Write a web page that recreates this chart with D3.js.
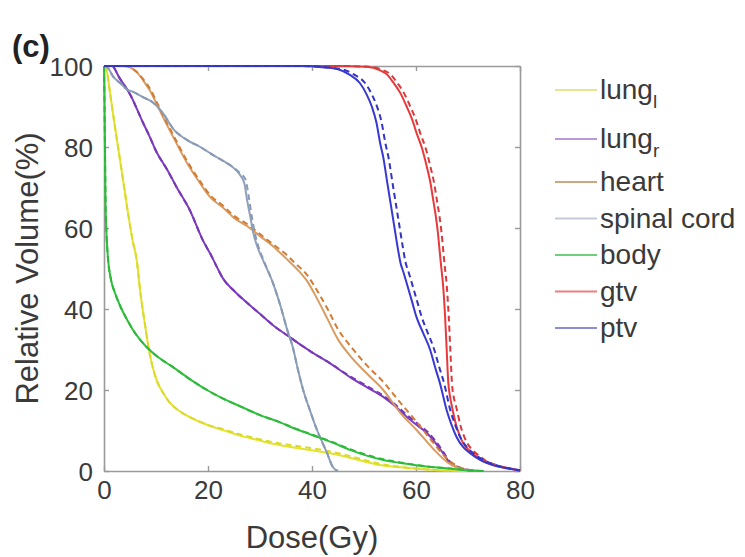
<!DOCTYPE html>
<html>
<head>
<meta charset="utf-8">
<script src="https://cdn.jsdelivr.net/npm/d3@7"></script>
<style>
  html, body { margin: 0; padding: 0; background: #ffffff; }
  svg { display: block; }
  text { font-family: "Liberation Sans", Arial, Helvetica, sans-serif; }
</style>
</head>
<body>
<svg id="chart" width="745" height="557"></svg>
<script>
// ---------------- data ----------------
const seriesNames = ["lung_l", "lung_r", "heart", "spinal cord", "body", "gtv", "ptv"];
const xTicks = [0, 20, 40, 60, 80];
const yTicks = [0, 20, 40, 60, 80, 100];
const xLabel = "Dose(Gy)";
const yLabel = "Relative Volume(%)";
const panelLabel = "(c)";

// [dose (Gy), relative volume (%)] — plan 1 (solid) and plan 2 (dashed)
const lungL1 = [[0,100],[0.5,99],[1.2,93],[2.1,85],[3,77.5],[4,69],[4.7,63],[5.5,57],[6.3,52],[7,44],[7.9,36],[8.5,31],[9.3,26],[10.1,22.5],[11.5,19],[12.7,16.8],[14.5,14.8],[16.5,13.3],[20,11.3],[22.9,10.1],[26,8.8],[29.4,7.7],[33,6.6],[35.8,5.9],[39.6,5.2],[43.5,4.4],[46,3.7],[49,2.7],[53,1.5],[57,0.9],[61,0.5],[66,0.1],[70,0]];
const lungL2 = [[0,100],[0.5,99],[1.2,93],[2.1,85],[3,77.5],[4,69],[4.7,63],[5.5,57],[6.3,52],[7,44],[7.9,36],[8.5,31],[9.3,26],[10.1,22.5],[11.5,19],[12.7,16.8],[14.5,14.8],[16.5,13.3],[20,11.4],[22.9,10.3],[26,9.1],[29.4,8.0],[33,7.0],[35.8,6.4],[39.6,5.7],[43.5,4.8],[46,4.1],[49,3.1],[53,1.8],[57,1.0],[61,0.5],[66,0.1],[70,0]];
const lungR1 = [[0,100],[1.5,100],[3,97],[5,93],[7.5,86],[8.8,82.5],[10,79],[12.1,74.5],[14,70],[16.5,64.4],[19,57],[20.5,53.5],[21.7,50.4],[22.9,47.5],[25,44.5],[28,41],[30,38.8],[33,35.5],[35.8,33],[38,31],[40,29.3],[43,27],[47.3,23.2],[50.5,20.7],[53.7,18.3],[56,16],[58.3,13.3],[60.2,11.3],[62.1,9.4],[63.7,7],[65.2,4.4],[66.5,2],[68,0.8],[70,0.2],[72,0]];
const lungR2 = [[0,100],[1.5,100],[3,97],[5,93],[7.5,86],[8.8,82.5],[10,79],[12.1,74.5],[14,70],[16.5,64.4],[19,57],[20.5,53.5],[21.7,50.4],[22.9,47.5],[25,44.5],[28,41],[30,38.8],[33,35.5],[35.8,33],[38,31],[40,29.3],[43,27],[47.3,23.4],[50.5,21],[53.7,18.6],[56,16.4],[58.3,13.8],[60.2,11.8],[62.1,9.8],[63.7,7.5],[65.2,4.8],[66.5,2.3],[68,1],[70,0.3],[72,0]];
const heart1 = [[0,100],[4,100],[5,99.7],[6.3,98.5],[7.5,96.5],[8.8,94],[10,91],[11.3,87.5],[13.3,82.5],[16,76],[18.5,71],[20.5,67.5],[22.9,65],[25,62.5],[27.5,60.5],[30,58],[32.5,55.5],[35,52.5],[37,50],[39,47],[41,42.5],[43,37.5],[45,32.5],[47.3,28.5],[50.6,24],[53.7,20],[56.9,14.5],[60.2,10],[63.3,5.5],[66,2.2],[68,0.8],[70,0.2],[72,0]];
const heart2 = [[0,100],[4,100],[5,99.7],[6.3,98.5],[7.5,96.8],[8.8,94.5],[10,91.5],[11.3,88],[13.3,83],[16,76.5],[18.5,71.5],[20.5,68],[22.9,65.5],[25,63],[27.5,61],[30,58.5],[32.5,56],[35,53.5],[37,51],[39,48.5],[41,44.5],[43,40],[45,35],[47.3,31],[50.6,26],[53.7,22],[56.9,17],[60.2,12],[63.3,7],[66,3],[68,1.2],[70,0.3],[72,0]];
const spinal1 = [[0,100],[0.8,99.5],[1.7,97.5],[3.1,95.8],[4.4,94.2],[5.6,93.6],[7.5,92.3],[9.4,91],[11.3,88.4],[13.3,84.5],[16,81.7],[18.5,80],[21,78],[23,76.5],[24.5,75.3],[26.2,73],[27,71],[27.5,67],[28.1,63],[28.7,58.8],[29.6,55],[30.6,52],[32.5,46.4],[34,40.5],[35.2,35],[36.3,30.6],[37.3,25],[38.3,20],[39.6,15],[41,10],[42,7],[42.9,4.4],[44,1],[45,0]];
const spinal2 = [[0,100],[0.8,99.5],[1.7,97.5],[3.1,95.8],[4.4,94.2],[5.6,93.6],[7.5,92.3],[9.4,91],[11.3,88.4],[13.3,84.5],[16,81.7],[18.5,80],[21,78],[23,76.5],[24.5,75.3],[26.2,73.5],[27.2,72],[27.8,68],[28.4,63],[29,58.8],[29.8,55],[30.7,52],[32.5,46.4],[34,40.5],[35.2,35],[36.3,30.6],[37.3,25],[38.3,20],[39.6,15],[41,10],[42,7],[42.9,4.4],[44,1],[45,0]];
const body1 = [[0,100],[0.1,90],[0.2,78],[0.3,66],[0.5,58],[0.8,52],[1.3,47.5],[2.1,44],[3.2,40.5],[4.6,37],[6,34],[7.9,31],[10,28.5],[13.2,25.7],[16.5,22.7],[19.8,20],[23,17.8],[26.3,15.9],[30,13.8],[33.5,12.2],[37,10.3],[40,8.9],[44,7],[47.3,5.2],[50.5,3.8],[53.7,2.7],[57,2],[60,1.4],[63,1],[66.5,0.6],[70,0.2],[73,0]];
const body2 = [[0,100],[0.1,90],[0.2,78],[0.3,66],[0.5,58],[0.8,52],[1.3,47.5],[2.1,44],[3.2,40.5],[4.6,37],[6,34],[7.9,31],[10,28.5],[13.2,25.7],[16.5,22.7],[19.8,20],[23,17.8],[26.3,15.9],[30,13.8],[33.5,12.2],[37,10.4],[40,9.0],[44,7.1],[47.3,5.4],[50.5,4.0],[53.7,2.9],[57,2.1],[60,1.5],[63,1],[66.5,0.6],[70,0.2],[73,0]];
const gtv1 = [[0,100],[45,100],[50.5,99.8],[53,99],[54.5,97.8],[55.6,96],[57,93.3],[58.2,90],[59.2,87],[60.1,83.5],[61.2,79.5],[62.1,75],[62.8,71],[63.3,67],[63.8,63],[64.2,59],[64.5,55],[64.8,51],[65.2,46],[65.6,38],[65.9,30],[66.2,22],[66.6,18],[66.9,16],[67.8,11],[69,7],[70.3,5],[71.7,3.5],[73,2.3],[74.8,1.5],[77,0.8],[78.7,0.4],[80,0]];
const gtv2 = [[0,100],[45,100],[51,99.8],[53.6,99],[55.2,97.8],[56.3,96],[57.7,93.3],[58.9,90],[59.9,87],[60.8,83.5],[61.9,79.5],[62.8,75],[63.5,71],[64,67],[64.5,63],[64.9,59],[65.2,55],[65.5,51],[65.9,46],[66.3,38],[66.6,30],[66.9,22],[67.3,18],[67.7,16],[68.6,11],[69.8,7],[71,5],[72.4,3.5],[73.7,2.3],[75.4,1.5],[77.5,0.8],[79,0.4],[80,0]];
const ptv1 = [[0,100],[38,100],[42,99.7],[45,99.2],[47.3,97.8],[49.2,95.8],[50.5,93],[51.5,90],[52.4,86],[53.1,81],[53.7,77.5],[54.5,71],[55,67],[56,59],[56.5,55],[57,51.5],[57.6,49],[58.2,46.4],[59.2,42],[60.1,38],[61.4,34],[62.7,30],[63.7,25.5],[64.6,21.7],[65.9,15],[66.8,11.5],[67.8,8.4],[69,6],[70.4,4.4],[72,3],[73.6,2],[75.5,1.2],[77.4,0.7],[80,0.2]];
const ptv2 = [[0,100],[38,100],[42.6,99.7],[45.8,99.2],[48.2,97.8],[50.2,95.8],[51.5,93],[52.5,90],[53.4,86],[54.1,81],[54.7,77.5],[55.5,71],[56,67],[57,59],[57.5,55],[58,51.5],[58.6,49],[59.2,46.4],[60.2,42],[61.1,38],[62.3,34],[63.5,30],[64.5,25.5],[65.4,21.7],[66.6,15],[67.5,11.5],[68.5,8.4],[69.7,6],[71,4.4],[72.6,3],[74.2,2],[76,1.2],[77.8,0.7],[80,0.2]];

const solidSeries = [lungL1, lungR1, heart1, spinal1, body1, gtv1, ptv1];
const dashedSeries = [lungL2, lungR2, heart2, spinal2, body2, gtv2, ptv2];

// ---------------- styles ----------------
const solidColors  = ["#e3e32c", "#7d3cc2", "#d89c62", "#8fa1ba", "#2fc03c", "#e8393b", "#3838d2"];
const dashedColors = ["#d9d92e", "#7838b6", "#d27c34", "#8799b4", "#2cb838", "#d83a3c", "#3434c4"];
const legendColors = ["#e6e68c", "#b89ad8", "#c8a982", "#c3cad8", "#6fcf7d", "#e98080", "#8c8cd2"];

// ---------------- layout ----------------
const svg = d3.select("#chart");
const x = d3.scaleLinear().domain([0, 80]).range([104, 520]);
const y = d3.scaleLinear().domain([0, 100]).range([471, 66]);
const axisColor = "#9a9a9a";
const textColor = "#3a3a3a";

svg.append("defs").append("clipPath").attr("id", "clip")
  .append("rect").attr("x", x(0) - 2).attr("y", y(100) - 2)
  .attr("width", x(80) - x(0) + 4).attr("height", y(0) - y(100) + 4);

const line = d3.line().x(d => x(d[0])).y(d => y(d[1])).curve(d3.curveMonotoneX);

// axes box
const axisG = svg.append("g");
function styleAxis(g) {
  g.select(".domain").attr("stroke", axisColor).attr("stroke-width", 1.6);
  g.selectAll(".tick line").attr("stroke", axisColor).attr("stroke-width", 1.4);
  g.selectAll(".tick text").attr("fill", textColor).attr("font-size", 26)
    .attr("font-family", "Liberation Sans, Arial, sans-serif");
}
const gx = axisG.append("g").attr("transform", `translate(0,${y(0)})`)
  .call(d3.axisBottom(x).tickValues(xTicks).tickSizeInner(-5).tickSizeOuter(0).tickPadding(10));
styleAxis(gx);
const gy = axisG.append("g").attr("transform", `translate(${x(0)},0)`)
  .call(d3.axisLeft(y).tickValues(yTicks).tickSizeInner(-5).tickSizeOuter(0).tickPadding(11));
styleAxis(gy);
gy.selectAll(".tick text").attr("dy", "0.36em");
const gxTop = axisG.append("g").attr("transform", `translate(0,${y(100)})`)
  .call(d3.axisTop(x).tickValues(xTicks).tickSizeInner(-5).tickSizeOuter(0).tickFormat(""));
styleAxis(gxTop);
const gyRight = axisG.append("g").attr("transform", `translate(${x(80)},0)`)
  .call(d3.axisRight(y).tickValues(yTicks).tickSizeInner(-5).tickSizeOuter(0).tickFormat(""));
styleAxis(gyRight);

const curves = svg.append("g").attr("clip-path", "url(#clip)");
seriesNames.forEach((name, i) => {
  curves.append("path").datum(solidSeries[i])
    .attr("fill", "none").attr("stroke", solidColors[i]).attr("stroke-width", 2)
    .attr("d", line);
  curves.append("path").datum(dashedSeries[i])
    .attr("fill", "none").attr("stroke", dashedColors[i]).attr("stroke-width", 2)
    .attr("stroke-dasharray", "6,4")
    .attr("d", line);
});

// axis labels
svg.append("text").attr("x", (x(0) + x(80)) / 2).attr("y", 548)
  .attr("text-anchor", "middle").attr("font-size", 31).attr("fill", textColor).text(xLabel);
svg.append("text").attr("transform", `translate(38,${(y(0) + y(100)) / 2}) rotate(-90)`)
  .attr("text-anchor", "middle").attr("font-size", 31).attr("fill", textColor).text(yLabel);

// panel label
svg.append("text").attr("x", 12).attr("y", 57).attr("font-size", 31)
  .attr("font-weight", "bold").attr("fill", "#222").text(panelLabel);

// legend
const legendG = svg.append("g");
let ly = 90;
seriesNames.forEach((name, i) => {
  const row = legendG.append("g").attr("transform", `translate(0,${ly})`);
  row.append("line").attr("x1", 555).attr("x2", 597).attr("y1", 0).attr("y2", 0)
    .attr("stroke", legendColors[i]).attr("stroke-width", 2);
  const t = row.append("text").attr("x", 600).attr("y", 9)
    .attr("font-size", 28).attr("fill", textColor);
  const parts = name.split("_");
  t.append("tspan").text(parts[0]);
  if (parts.length > 1) {
    t.append("tspan").attr("font-size", 19).attr("dy", 9).text(parts[1]);
  }
  ly += (i === 0 ? 49 : i === 1 ? 43 : 36.5);
});
</script>
</body>
</html>
